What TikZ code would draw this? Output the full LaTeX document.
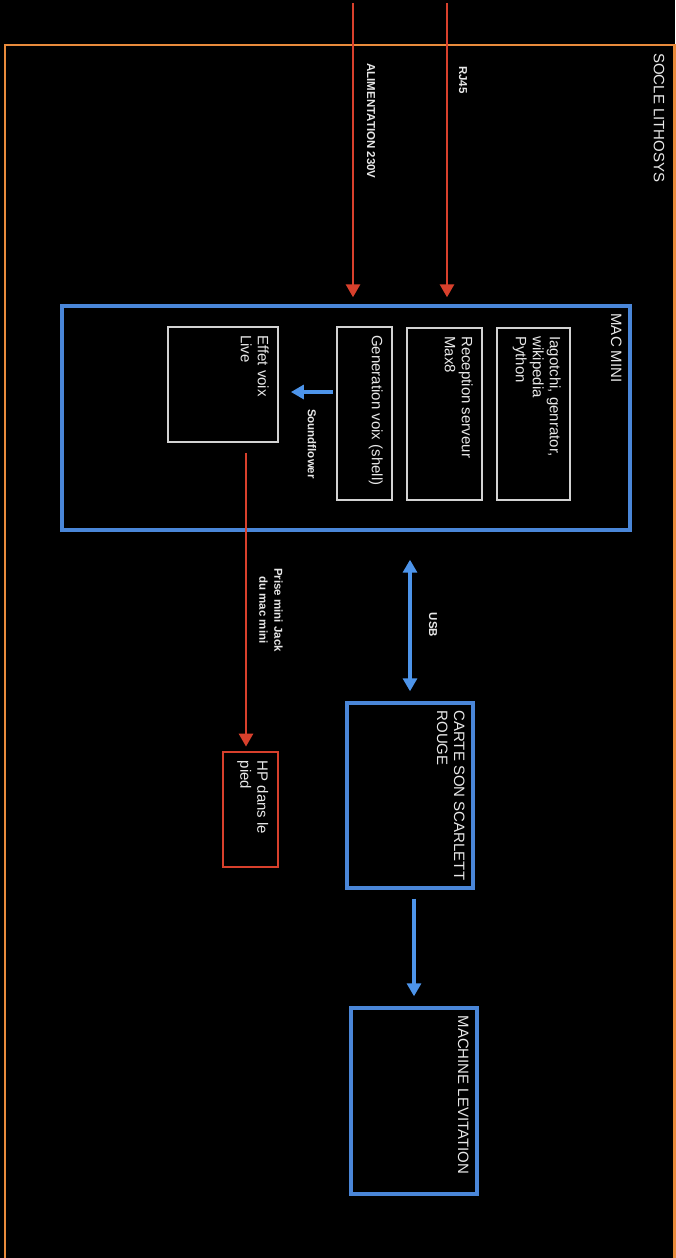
\documentclass[tikz,border=0pt]{standalone}
\usepackage{fontspec}
\setmainfont{Liberation Sans}
\usetikzlibrary{arrows.meta}
\definecolor{socle}{HTML}{E98B3C}
\definecolor{rouge}{HTML}{D8402C}
\definecolor{bleu}{HTML}{4A86D8}
\definecolor{bleufleche}{HTML}{4D94EA}
\definecolor{gris}{HTML}{D2D2D2}
\definecolor{texte}{HTML}{E8E8E8}
\begin{document}
\begin{tikzpicture}[x=1pt, y=-1pt,
    bloc/.style     = {draw, rectangle, inner sep=0pt},
    bleubox/.style  = {bloc, bleu, line width=3.4pt},
    blancbox/.style = {bloc, gris, line width=1.8pt},
    rougebox/.style = {bloc, rouge, line width=2.8pt},
    titre/.style    = {rotate=-90, anchor=north west, inner sep=0pt, align=left,
                       text=texte, font=\fontsize{15}{17}\selectfont},
    etiquette/.style = {rotate=-90, inner sep=0pt, align=center,
                       text=texte, font=\fontsize{11.5}{15}\selectfont\bfseries},
    fleche rouge/.style = {rouge, line width=2.8pt, -{Triangle[length=13pt, width=14pt]}},
    fleche bleue/.style = {bleufleche, line width=3.2pt, -{Triangle[length=13pt, width=14pt]}},
    fleche double/.style = {bleufleche, line width=3.2pt,
                       {Triangle[length=13pt, width=14pt]}-{Triangle[length=13pt, width=14pt]}},
  ]
  \useasboundingbox (0,0) rectangle (675,1258);
  \fill[black] (0,0) rectangle (675,1258);

  % socle
  \coordinate (socle) at (674.5,45);
  \draw[socle, line width=2.8pt] (5,1270) -- (5,45) -- (socle) -- (674.5,1270);
  \node[titre] (socletxt) at ([xshift=-10pt, yshift=-8pt]socle) {SOCLE LITHOSYS};

  % blocs
  \node[bleubox, minimum width=568pt, minimum height=224pt] (macmini)    at (346,418) {};
  \node[blancbox, minimum width=73pt, minimum height=172pt] (iagotchi)   at (533.5,414) {};
  \node[blancbox, minimum width=75pt, minimum height=172pt] (reception)  at (444.5,414) {};
  \node[blancbox, minimum width=55pt, minimum height=173pt] (generation) at (364.5,413.5) {};
  \node[blancbox, minimum width=110pt, minimum height=115pt] (effet)     at (223,384.5) {};
  \node[rougebox, minimum width=55pt, minimum height=115pt] (hp)         at (250.5,809.5) {};
  \node[bleubox, minimum width=126pt, minimum height=185pt] (carte)      at (410,795.5) {};
  \node[bleubox, minimum width=126pt, minimum height=186pt] (machine)    at (414,1101) {};

  \node[titre] (macminitxt)    at ([xshift=-10pt, yshift=-9pt]macmini.north east)    {MAC MINI};
  \node[titre] (iagotchitxt)   at ([xshift=-10pt, yshift=-9pt]iagotchi.north east)   {Iagotchi, genrator,\\wikipedia\\Python};
  \node[titre] (receptiontxt)  at ([xshift=-10pt, yshift=-9pt]reception.north east)  {Reception serveur\\Max8};
  \node[titre] (generationtxt) at ([xshift=-10pt, yshift=-9pt]generation.north east) {Generation voix (shell)};
  \node[titre] (effettxt)      at ([xshift=-10pt, yshift=-9pt]effet.north east)      {Effet voix\\Live};
  \node[titre] (hptxt)         at ([xshift=-11pt, yshift=-10pt]hp.north east)        {HP dans le\\pied};
  \node[titre] (cartetxt)      at ([xshift=-10pt, yshift=-9pt]carte.north east)      {CARTE SON SCARLETT\\ROUGE};
  \node[titre] (machinetxt)    at ([xshift=-10pt, yshift=-9pt]machine.north east)    {MACHINE LEVITATION};

  % liaisons
  \coordinate (alim) at (353,3);
  \coordinate (rj)   at (447,3);
  \coordinate (sf)   at ([yshift=21.5pt]generation.west);
  \coordinate (jack) at ([xshift=23pt]effet.south);
  \draw[fleche rouge, shorten >=7pt] (alim) -- (alim |- macmini.north);
  \draw[fleche rouge, shorten >=7pt] (rj) -- (rj |- macmini.north);
  \draw[fleche bleue, shorten <=3pt, shorten >=12pt] (sf) -- (sf -| effet.east);
  \draw[fleche rouge, shorten <=10pt, shorten >=4pt] (jack) -- (jack |- hp.north);
  \draw[fleche double, shorten <=28pt, shorten >=10pt] (macmini.south -| carte.north) -- (carte.north);
  \draw[fleche bleue, shorten <=9pt, shorten >=10pt] (carte.south -| machine.north) -- (machine.north);

  \node[etiquette] (alimtxt) at (371,121) {ALIMENTATION 230V};
  \node[etiquette] (rjtxt)   at (463,80)  {RJ45};
  \node[etiquette] (sftxt)   at (312,444) {Soundflower};
  \node[etiquette] (jacktxt) at (271,610) {Prise mini Jack\\du mac mini};
  \node[etiquette] (usbtxt)  at (433,625) {USB};
\end{tikzpicture}
\end{document}
